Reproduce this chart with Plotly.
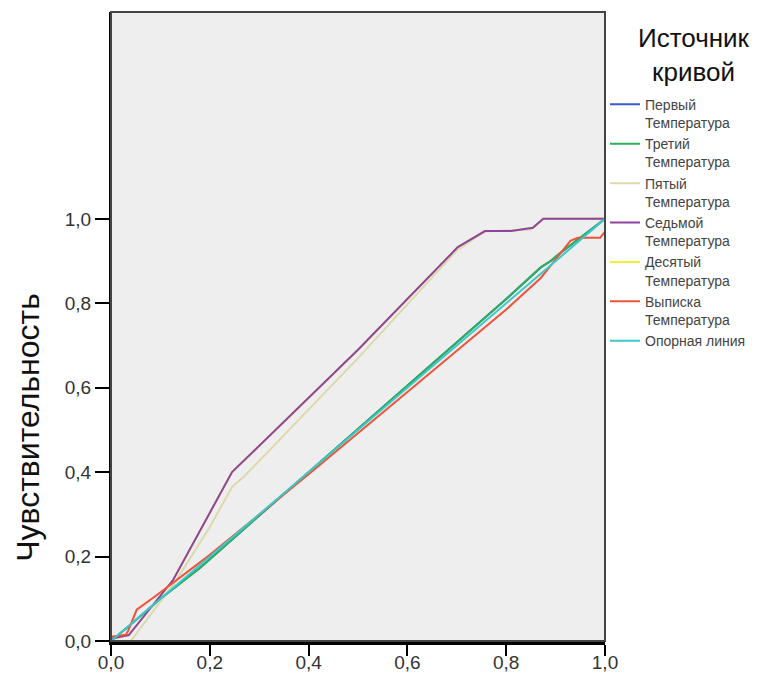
import plotly.graph_objects as go

# ROC curve data (1 - specificity, sensitivity)
first_x = [0.0, 0.034, 0.10, 0.18, 0.40, 0.60, 0.80, 0.87, 0.89, 0.905, 1.0]
first_y = [0.0, 0.033, 0.10, 0.173, 0.40, 0.605, 0.81, 0.885, 0.90, 0.915, 1.0]

third_x = [0.0, 0.034, 0.10, 0.18, 0.40, 0.60, 0.80, 0.87, 0.89, 0.905, 1.0]
third_y = [0.0, 0.033, 0.10, 0.173, 0.40, 0.605, 0.81, 0.885, 0.90, 0.915, 1.0]

fifth_x = [0.0, 0.04, 0.13, 0.20, 0.245, 0.27, 0.50, 0.70, 0.757, 0.85, 0.875, 1.0]
fifth_y = [0.0, 0.0, 0.14, 0.27, 0.365, 0.39, 0.67, 0.925, 0.97, 0.975, 1.0, 1.0]

seventh_x = [0.0, 0.0, 0.036, 0.126, 0.245, 0.50, 0.702, 0.757, 0.81, 0.854, 0.875, 1.0]
seventh_y = [0.0, 0.005, 0.014, 0.145, 0.40, 0.69, 0.933, 0.971, 0.971, 0.979, 1.0, 1.0]

tenth_x = [0.0, 0.0, 0.036, 0.126, 0.245, 0.50, 0.702, 0.757, 0.81, 0.854, 0.875, 1.0]
tenth_y = [0.0, 0.005, 0.014, 0.145, 0.40, 0.69, 0.933, 0.971, 0.971, 0.979, 1.0, 1.0]

discharge_x = [0.0, 0.0, 0.03, 0.035, 0.052, 0.093, 0.20, 0.30, 0.40, 0.60, 0.80, 0.87, 0.93, 0.945, 0.99, 1.0, 1.0]
discharge_y = [0.0, 0.01, 0.015, 0.025, 0.074, 0.109, 0.204, 0.30, 0.395, 0.59, 0.785, 0.86, 0.948, 0.955, 0.955, 0.97, 1.0]

ref_x = [0.0, 1.0]
ref_y = [0.0, 1.0]

x_ticks = [0.0, 0.2, 0.4, 0.6, 0.8, 1.0]
x_ticktext = ["0,0", "0,2", "0,4", "0,6", "0,8", "1,0"]
y_ticks = [0.0, 0.2, 0.4, 0.6, 0.8, 1.0]
y_ticktext = ["0,0", "0,2", "0,4", "0,6", "0,8", "1,0"]

names = {
    "first": "Первый<br>Температура",
    "third": "Третий<br>Температура",
    "fifth": "Пятый<br>Температура",
    "seventh": "Седьмой<br>Температура",
    "tenth": "Десятый<br>Температура",
    "discharge": "Выписка<br>Температура",
    "ref": "Опорная линия",
}

colors = {
    "first": "#3A5BC7",
    "third": "#2EAF5A",
    "fifth": "#DCD9AE",
    "seventh": "#8E44A0",
    "tenth": "#F2EE3C",
    "discharge": "#F0533A",
    "ref": "#3CC8C8",
}

series = {
    "first": (first_x, first_y, 1),
    "third": (third_x, third_y, 2),
    "fifth": (fifth_x, fifth_y, 3),
    "seventh": (seventh_x, seventh_y, 4),
    "tenth": (tenth_x, tenth_y, 5),
    "discharge": (discharge_x, discharge_y, 6),
    "ref": (ref_x, ref_y, 7),
}

draw_order = ["first", "tenth", "fifth", "third", "seventh", "discharge", "ref"]

fig = go.Figure()
for key in draw_order:
    xs, ys, rank = series[key]
    fig.add_trace(go.Scatter(
        x=xs, y=ys, mode="lines", name=names[key],
        line=dict(color=colors[key], width=2),
        legendrank=rank,
    ))

font_main = "Liberation Sans, Arial, sans-serif"

fig.update_layout(
    width=777, height=684,
    margin=dict(l=111, r=172, t=12, b=43, autoexpand=False),
    paper_bgcolor="white",
    plot_bgcolor="#EEEEEE",
    showlegend=True,
    legend=dict(
        x=1.0, xanchor="left", y=0.878, yanchor="top",
        font=dict(family=font_main, size=14, color="#444444"),
        itemwidth=30, tracegroupgap=0, bgcolor="rgba(0,0,0,0)",
        valign="top",
    ),
    xaxis=dict(
        range=[0, 1], tickvals=x_ticks, ticktext=x_ticktext,
        ticks="outside", ticklen=11, tickwidth=2, tickcolor="black",
        showline=True, linewidth=4, linecolor="black",
        showgrid=False, zeroline=False, automargin=False,
        ticklabelstandoff=-10,
        tickfont=dict(family=font_main, size=19, color="#333333"),
    ),
    yaxis=dict(
        range=[0, 1.49], tickvals=y_ticks, ticktext=y_ticktext,
        ticks="outside", ticklen=14, tickwidth=2, tickcolor="black",
        showline=True, linewidth=2, linecolor="black",
        showgrid=False, zeroline=False, automargin=False,
        tickfont=dict(family=font_main, size=19, color="#333333"),
    ),
    shapes=[dict(type="rect", xref="paper", yref="paper", x0=0, y0=0, x1=1, y1=1,
                 line=dict(color="#444444", width=2), layer="above")],
    annotations=[
        dict(text="Источник<br>кривой", xref="paper", yref="paper",
             x=1.18, y=0.985, xanchor="center", yanchor="top", showarrow=False,
             font=dict(family=font_main, size=26, color="#111111")),
        dict(text="Чувствительность", xref="paper", yref="paper",
             x=-0.168, y=0.339, xanchor="center", yanchor="middle", showarrow=False,
             textangle=-90,
             font=dict(family="Liberation Sans Narrow, Arial Narrow, Liberation Sans, sans-serif", size=32, color="#111111")),
    ],
)

fig.write_html("out.html")
